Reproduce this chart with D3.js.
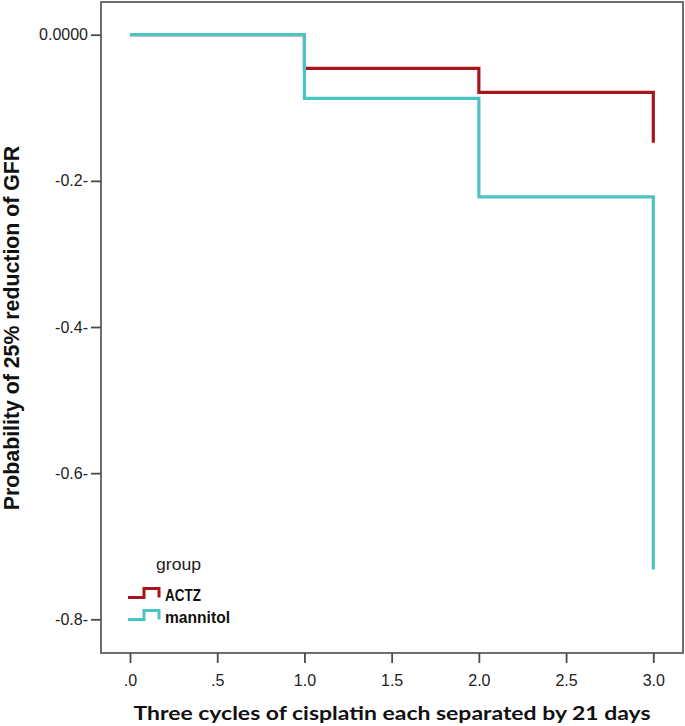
<!DOCTYPE html>
<html>
<head>
<meta charset="utf-8">
<script src="https://cdn.jsdelivr.net/npm/d3@7"></script>
<style>
  html, body { margin: 0; padding: 0; background: #fff; }
  svg { display: block; }
</style>
</head>
<body>
<svg id="chart" width="685" height="726"></svg>
<script>
// ---- data ----
const cycles = [0, 1, 2, 3];
const actzValues = [0, -0.046, -0.079, -0.148];
const mannitolValues = [0, -0.087, -0.222, -0.732];
const seriesNames = ["ACTZ", "mannitol"];
const xTickValues = [0, 0.5, 1, 1.5, 2, 2.5, 3];
const xTickLabels = [".0", ".5", "1.0", "1.5", "2.0", "2.5", "3.0"];
const yTickValues = [0, -0.2, -0.4, -0.6, -0.8];
const yTickLabels = ["0.0000", "-0.2-", "-0.4-", "-0.6-", "-0.8-"];
const xTitle = "Three cycles of cisplatin each separated by 21 days";
const yTitle = "Probability of 25% reduction of GFR";
const legendTitle = "group";

const colors = { "ACTZ": "#a8141b", "mannitol": "#4cc4c6" };
const axisColor = "#4a4a4a";

const svg = d3.select("#chart");

const box = { left: 101, top: 2, right: 683, bottom: 653 };

const x = d3.scaleLinear().domain([0, 3]).range([130, 653.3]);
const y = d3.scaleLinear().domain([0, -0.8]).range([34.7, 619.3]);

// frame
svg.append("rect")
  .attr("x", box.left).attr("y", box.top)
  .attr("width", box.right - box.left).attr("height", box.bottom - box.top)
  .attr("fill", "none").attr("stroke", axisColor).attr("stroke-width", 1.6);

// y axis
const yAxis = d3.axisLeft(y)
  .tickValues(yTickValues)
  .tickFormat((d, i) => yTickLabels[i])
  .tickSize(10).tickPadding(3);
const gy = svg.append("g").attr("transform", `translate(${box.left},0)`).call(yAxis);
gy.select(".domain").remove();
gy.selectAll("line").attr("stroke", axisColor).attr("stroke-width", 1.8);
gy.selectAll("text").attr("font-family", "Liberation Sans, Arial, sans-serif")
  .attr("font-size", 16).attr("fill", "#222");

// x axis
const xAxis = d3.axisBottom(x)
  .tickValues(xTickValues)
  .tickFormat((d, i) => xTickLabels[i])
  .tickSize(10).tickPadding(12);
const gx = svg.append("g").attr("transform", `translate(0,${box.bottom})`).call(xAxis);
gx.select(".domain").remove();
gx.selectAll("line").attr("stroke", axisColor).attr("stroke-width", 1.8);
gx.selectAll("text").attr("font-family", "Liberation Sans, Arial, sans-serif")
  .attr("font-size", 16).attr("fill", "#222");

// lines
const line = d3.line()
  .x(d => x(d[0])).y(d => y(d[1]))
  .curve(d3.curveStepAfter);

const series = [
  { name: "ACTZ", values: actzValues },
  { name: "mannitol", values: mannitolValues }
];
series.forEach(s => {
  svg.append("path")
    .datum(cycles.map((c, i) => [c, s.values[i]]))
    .attr("d", line)
    .attr("fill", "none")
    .attr("stroke", colors[s.name])
    .attr("stroke-width", 3.2)
    .attr("stroke-linejoin", "miter")
    .attr("stroke-linecap", "butt");
});

// axis titles
svg.append("text")
  .attr("x", 392).attr("y", 720)
  .attr("text-anchor", "middle")
  .attr("font-family", "Lato, 'Open Sans', sans-serif")
  .attr("font-weight", "bold")
  .attr("font-size", 19.5)
  .attr("textLength", 517).attr("lengthAdjust", "spacingAndGlyphs")
  .attr("fill", "#111")
  .text(xTitle);

svg.append("text")
  .attr("transform", "translate(19,328) rotate(-90)")
  .attr("text-anchor", "middle")
  .attr("font-family", "Liberation Sans, Arial, sans-serif")
  .attr("font-weight", "bold")
  .attr("font-size", 21.3)
  .attr("fill", "#111")
  .text(yTitle);

// legend
svg.append("text")
  .attr("x", 156).attr("y", 570)
  .attr("font-family", "Liberation Sans, Arial, sans-serif")
  .attr("font-size", 17)
  .attr("textLength", 45).attr("lengthAdjust", "spacingAndGlyphs")
  .attr("fill", "#222")
  .text(legendTitle);

const legendRows = [
  { name: seriesNames[0], low: 597.5, widthText: 36 },
  { name: seriesNames[1], low: 619.5, widthText: 65 }
];
legendRows.forEach(r => {
  const lp = d3.path();
  lp.moveTo(128, r.low);
  lp.lineTo(144, r.low);
  lp.lineTo(144, r.low - 9);
  lp.lineTo(159, r.low - 9);
  lp.lineTo(159, r.low);
  svg.append("path").attr("d", lp.toString())
    .attr("fill", "none").attr("stroke", colors[r.name])
    .attr("stroke-width", 3);
  svg.append("text")
    .attr("x", 165).attr("y", r.low + 3)
    .attr("font-family", "'Liberation Sans Narrow', 'Liberation Sans', Arial, sans-serif")
    .attr("font-weight", "bold")
    .attr("font-size", 16)
    .attr("textLength", r.widthText).attr("lengthAdjust", "spacingAndGlyphs")
    .attr("fill", "#111")
    .text(r.name);
});
</script>
</body>
</html>
